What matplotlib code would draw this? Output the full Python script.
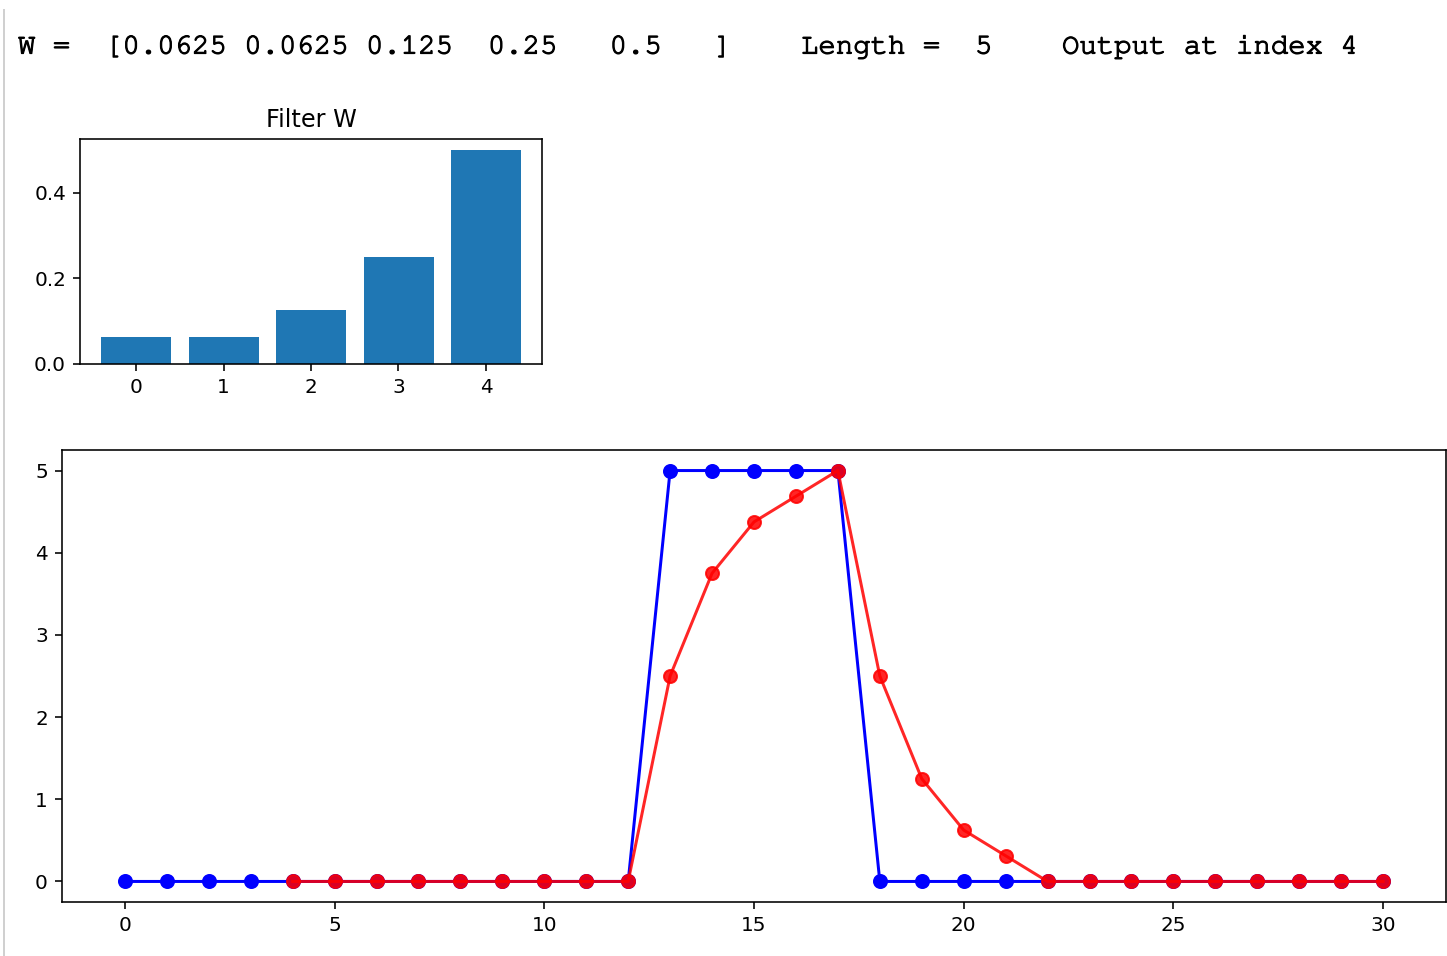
import matplotlib
matplotlib.use("Agg")
import matplotlib.pyplot as plt
from matplotlib import font_manager
from matplotlib import patheffects
from matplotlib.lines import Line2D

# filter taps
taps = [0, 1, 2, 3, 4]
W = [0.0625, 0.0625, 0.125, 0.25, 0.5]

# input pulse
n_in = list(range(31))
x_in = [0, 0, 0, 0, 0, 0, 0, 0, 0, 0, 0, 0, 0,
        5, 5, 5, 5, 5,
        0, 0, 0, 0, 0, 0, 0, 0, 0, 0, 0, 0, 0]

# filtered output, starts at index 4
n_out = list(range(4, 31))
y_out = [0, 0, 0, 0, 0, 0, 0, 0, 0,
         2.5, 3.75, 4.375, 4.6875, 5, 2.5, 1.25, 0.625, 0.3125,
         0, 0, 0, 0, 0, 0, 0, 0, 0]

header = "W =  [0.0625 0.0625 0.125  0.25   0.5   ]    Length =  5    Output at index 4"

# courier-style mono if there is one, else Liberation Mono
installed = {f.name for f in font_manager.fontManager.ttflist}
mono = "Liberation Mono"
for name in ["Courier New", "Courier", "Nimbus Mono PS", "FreeMono"]:
    if name in installed:
        mono = name
        break

fig = plt.figure(figsize=(1447 / 144, 956 / 144), dpi=144)

# output cell border on the left
fig.add_artist(Line2D([4 / 1447, 4 / 1447], [0, 1 - 10 / 956],
                      transform=fig.transFigure, color="#d0d0d0", lw=1))

# thin courier looks faint, thicken it a little
fig.text(18 / 1447, 1 - 47 / 956, header, family=mono,
         fontsize=14.5, va="center", ha="left",
         path_effects=[patheffects.withStroke(linewidth=0.6, foreground="black")])

ax1 = fig.add_axes([80 / 1447, 1 - 364 / 956, 462 / 1447, 225 / 956])
ax1.bar(taps, W)
ax1.set_title("Filter W", fontsize=12)
ax1.set_xticks(taps)

ax2 = fig.add_axes([62 / 1447, 1 - 902 / 956, 1384 / 1447, 452 / 956])
ax2.plot(n_in, x_in, "b-o", ms=6.5)
ax2.plot(n_out, y_out, "r-o", ms=6.5, alpha=0.85)

fig.savefig("out.png", dpi=144)
